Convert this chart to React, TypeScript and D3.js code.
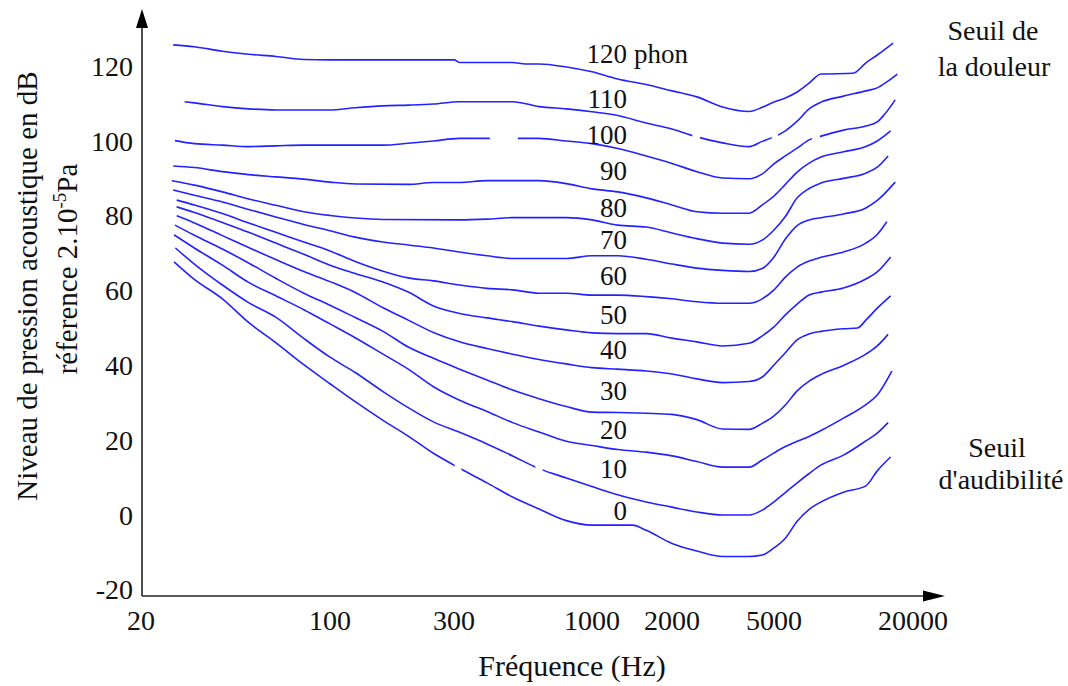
import React from "react";
import * as d3 from "d3";

// ---------- data ----------
const phonLevels = [0, 10, 20, 30, 40, 50, 60, 70, 80, 90, 100, 110, 120];

const phon0: [number, number][] = [[26.5,67.7],[31.5,63.0],[40,57.8],[50,51.5],[63,46.1],[80,40.2],[100,35.1],[125,30.3],[160,25.3],[200,21.1],[250,16.5],[315,12.5],[400,8.6],[500,4.8],[630,1.6],[800,-1.5],[1000,-2.7],[1420,-2.7],[1600,-4.1],[2000,-7.6],[2500,-9.6],[3150,-11.1],[4000,-11.1],[4500,-10.7],[5000,-8.8],[5600,-6.2],[6300,-1.7],[7100,1.5],[8000,3.5],[10000,6.1],[12500,7.8],[14000,11.8],[16000,15.5]];
const phon10: [number, number][] = [[26.8,71.4],[31.5,67.1],[40,61.5],[50,56.8],[63,52.9],[80,47.2],[100,42.2],[125,38.1],[160,33.0],[200,28.7],[250,24.9],[315,22.1],[400,19.0],[500,15.8],[630,12.4],[800,9.9],[1000,7.6],[1250,5.4],[1600,3.5],[2000,2.1],[2500,0.8],[3150,0],[4000,0],[4500,1.3],[5000,3.5],[5600,6.0],[6300,8.6],[7100,11.1],[8000,13.4],[10000,16.0],[12500,19.8],[14000,21.9],[15600,24.7]];
const phon20: [number, number][] = [[26.5,74.9],[31.5,71.4],[40,66.8],[50,62.2],[63,58.6],[80,54.9],[100,51.1],[125,47.4],[160,43.0],[200,39.0],[250,34.3],[315,30.7],[400,27.7],[500,24.7],[630,22.2],[800,19.7],[1000,18.6],[1250,17.5],[1600,16.8],[2000,15.8],[2500,14.3],[3150,12.8],[4000,12.8],[4500,14.7],[5000,16.6],[5600,18.3],[6300,19.7],[7100,21.0],[8000,22.6],[10000,25.9],[12500,29.5],[14000,32.1],[16200,38.5]];
const phon30: [number, number][] = [[26.7,77.5],[31.5,74.8],[40,71.1],[50,67.4],[63,63.3],[80,59.3],[100,56.1],[125,52.8],[160,49.1],[200,44.9],[250,41.9],[315,39.0],[400,36.1],[500,33.4],[630,31.1],[800,29.0],[1000,27.5],[1250,27.4],[1600,27.2],[2000,26.9],[2500,25.5],[3150,23.0],[4000,22.9],[4500,24.5],[5000,26.5],[5600,29.4],[6300,33.2],[7100,35.8],[8000,37.6],[10000,40.0],[12500,43.0],[14000,45.2],[15600,48.3]];
const phon40: [number, number][] = [[27.1,80.0],[31.5,78.1],[40,74.7],[50,71.5],[63,68.3],[80,65.1],[100,62.4],[125,59.5],[160,55.4],[200,52.1],[250,48.8],[315,46.3],[400,44.5],[500,43.0],[630,41.6],[800,40.4],[1000,39.4],[1250,39.0],[1600,38.5],[2000,37.7],[2500,36.4],[3150,35.4],[4000,35.7],[4500,36.9],[5000,40.1],[5600,43.4],[6300,46.8],[7100,48.4],[8000,49.1],[10000,49.8],[11500,50.0],[12500,52.1],[14000,55.3],[16000,58.6]];
const phon50: [number, number][] = [[27.1,82.4],[31.5,80.9],[40,78.2],[50,75.6],[63,72.7],[80,69.7],[100,66.8],[125,64.6],[160,62.3],[200,59.6],[250,55.9],[315,53.9],[400,52.7],[500,51.7],[630,50.5],[800,49.5],[1000,48.7],[1250,48.5],[1600,48.5],[2000,47.3],[2500,46.3],[3150,45.2],[4000,45.9],[4500,47.9],[5000,50.3],[5600,53.5],[6300,56.4],[7100,58.8],[8000,59.6],[10000,60.7],[12500,63.1],[14000,65.0],[16000,69.0]];
const phon60: [number, number][] = [[27.1,84.2],[31.5,82.9],[40,80.6],[50,78.1],[63,75.6],[80,73.0],[100,70.6],[125,67.8],[160,65.2],[200,63.4],[250,62.6],[315,61.5],[400,60.6],[500,60.2],[630,59.3],[800,59.3],[1000,58.8],[1250,58.8],[1600,58.4],[2000,57.8],[2500,57.0],[3150,56.6],[4000,56.6],[4500,57.8],[5000,60.2],[5600,63.6],[6300,66.3],[7100,67.9],[8000,68.9],[10000,70.3],[12500,72.7],[14000,75.0],[15400,78.4]];
const phon70: [number, number][] = [[26.3,86.9],[31.5,85.5],[40,83.7],[50,81.7],[63,79.7],[80,77.7],[100,76.0],[125,74.3],[160,73.0],[200,72.2],[250,71.4],[315,70.3],[400,69.3],[500,68.6],[800,68.6],[1000,69.3],[1250,69.3],[1600,68.4],[2000,67.1],[2500,66.0],[3150,65.4],[4000,65.1],[4500,65.9],[5000,69.0],[5600,73.8],[6300,77.4],[7100,78.9],[8000,79.5],[10000,80.5],[12500,82.1],[14000,84.1],[16750,89.0]];
const phon80: [number, number][] = [[26,89.4],[31.5,88.2],[40,86.4],[50,84.5],[63,82.8],[80,81.1],[100,80.1],[125,79.4],[160,79.0],[315,78.9],[400,79.1],[500,79.5],[800,79.5],[1000,78.9],[1250,77.5],[1600,77.0],[2000,75.4],[2500,73.9],[3150,72.7],[4000,72.4],[4500,73.5],[5000,76.2],[5600,79.8],[6300,84.8],[7100,87.3],[8000,88.8],[10000,90.0],[12500,91.4],[14000,93.0],[15600,96.0]];
const phon90: [number, number][] = [[26.3,93.3],[31.5,92.9],[40,91.8],[50,91.0],[63,90.4],[80,89.8],[100,89.0],[125,88.5],[200,88.4],[250,88.9],[315,88.9],[400,89.4],[630,89.4],[800,88.6],[1000,87.2],[1250,86.4],[1600,84.8],[2000,82.9],[2500,81.1],[3150,80.7],[4000,80.7],[4500,82.9],[5000,85.3],[5600,88.4],[6300,91.7],[7100,94.1],[8000,95.7],[10000,97.1],[12500,98.5],[14000,100.0],[16000,102.7]];
const phon100: [number, number][] = [[26.7,100.1],[31.5,99.3],[40,98.9],[50,98.5],[63,98.7],[80,98.9],[160,98.9],[200,99.4],[250,100.0],[315,100.7],[630,100.7],[800,100.0],[1000,99.3],[1250,98.0],[1600,96.0],[2000,94.0],[2500,91.8],[3150,90.1],[4000,89.9],[4500,91.2],[5000,93.9],[5600,96.0],[6300,98.1],[7100,100.3],[8000,101.3],[10000,102.9],[12500,104.0],[14000,105.1],[15000,107.0],[16750,111.0]];
const phon110: [number, number][] = [[29,110.5],[31.5,110.2],[40,109.2],[50,108.6],[63,108.3],[100,108.3],[125,108.9],[160,109.4],[200,109.6],[250,109.9],[315,110.5],[500,110.5],[630,109.2],[800,108.6],[1000,107.8],[1250,106.8],[1600,104.8],[2000,103.2],[2500,101.1],[3150,99.5],[4000,98.5],[4500,99.9],[5000,101.1],[5600,102.7],[6300,105.3],[7100,108.6],[8000,110.4],[10000,112.0],[12500,113.4],[14000,114.2],[15400,115.8],[17100,117.9]];
const phon120: [number, number][] = [[26.3,125.7],[31.5,125.2],[40,124.0],[50,123.2],[63,122.6],[80,121.8],[100,121.7],[250,121.7],[300,121.7],[315,121.0],[500,121.0],[560,120.6],[630,120.6],[800,119.8],[1000,118.5],[1250,116.6],[1600,115.1],[2000,113.4],[2500,111.8],[3150,109.1],[4000,107.9],[4500,109.0],[5000,110.4],[5600,111.5],[6300,113.1],[7100,115.5],[8000,117.9],[11000,118.1],[12500,120.9],[14000,123.0],[16400,126.2]];

const curves = [phon0, phon10, phon20, phon30, phon40, phon50, phon60, phon70, phon80, phon90, phon100, phon110, phon120];

// small breaks in the drawn lines (frequency intervals)
const curveGaps: [number, number][][] = [
  [[302, 320]], [[610, 650]], [], [], [], [], [], [], [], [],
  [[410, 524], [7300, 7900]], [[2400, 2570], [4900, 5200]], [],
];

// level (dB) of the baseline of each curve label
const labelLevels = [-1.3, 9.9, 20.3, 30.7, 41.7, 51.1, 61.5, 71.1, 79.7, 89.6, 99.2, 108.8, 120.9];

const xTicks = [20, 100, 300, 1000, 2000, 5000, 20000];
const yTicks = [-20, 0, 20, 40, 60, 80, 100, 120];

export default function App() {
  const W = 1068, H = 686;
  const x = d3.scaleLog().domain(xTicks).range([141, 330, 454, 592, 672, 774, 913]);
  const y = d3.scaleLinear().domain([-20, 120]).range([589.8, 66.2]);
  const line = d3
    .line<[number, number]>()
    .x((d) => x(d[0]))
    .y((d) => y(d[1]))
    .curve(d3.curveMonotoneX);

  const axisX0 = 142;
  const axisY0 = 596;
  const blue = "#2222ff";
  const font = "'Liberation Serif', 'Times New Roman', serif";

  return (
    <svg
      width={W}
      height={H}
      style={{ position: "absolute", left: 0, top: 0, background: "#fff" }}
      fontFamily={font}
    >
      <defs>
        {curves.map((c, i) => {
          const gaps = curveGaps[i];
          if (!gaps.length) return null;
          const rects: [number, number][] = [];
          let start = 0;
          gaps.forEach(([a, b]) => {
            rects.push([start, x(a)]);
            start = x(b);
          });
          rects.push([start, W]);
          return (
            <clipPath id={`gap-${i}`} key={i}>
              {rects.map(([a, b], j) => (
                <rect key={j} x={a} y={0} width={Math.max(0, b - a)} height={H} />
              ))}
            </clipPath>
          );
        })}
      </defs>

      {/* axes */}
      <line x1={axisX0} y1={axisY0} x2={axisX0} y2={24} stroke="#222" strokeWidth={1.6} />
      <polygon points={`${axisX0},9 ${axisX0 - 6},28 ${axisX0 + 6},28`} fill="#000" />
      <line x1={axisX0} y1={axisY0} x2={928} y2={axisY0} stroke="#222" strokeWidth={1.6} />
      <polygon points={`945,${axisY0} 923,${axisY0 - 5.5} 923,${axisY0 + 5.5}`} fill="#000" />

      {/* y tick labels */}
      {yTicks.map((t) => (
        <text key={t} x={133} y={y(t) + 9.5} textAnchor="end" fontSize={28} fill="#111">
          {t}
        </text>
      ))}
      {/* x tick labels */}
      {xTicks.map((t) => (
        <text key={t} x={x(t)} y={630} textAnchor="middle" fontSize={28} fill="#111">
          {t}
        </text>
      ))}

      {/* axis titles */}
      <text x={572} y={676} textAnchor="middle" fontSize={30} fill="#111">
        Fréquence (Hz)
      </text>
      <text transform="translate(37,286) rotate(-90)" textAnchor="middle" fontSize={29} fill="#111">
        Niveau de pression acoustique en dB
      </text>
      <text transform="translate(77,269) rotate(-90)" textAnchor="middle" fontSize={29} fill="#111">
        réference 2.10
        <tspan fontSize={19} dy={-11}>-5</tspan>
        <tspan dy={11}>Pa</tspan>
      </text>

      {/* curves */}
      {curves.map((c, i) => (
        <path
          key={i}
          d={line(c) || ""}
          fill="none"
          stroke={blue}
          strokeWidth={1.6}
          clipPath={curveGaps[i].length ? `url(#gap-${i})` : undefined}
        />
      ))}

      {/* curve labels */}
      {phonLevels.map((p, i) => (
        <text key={p} x={627} y={y(labelLevels[i])} textAnchor="end" fontSize={27} fill="#111">
          {p}
        </text>
      ))}
      <text x={634} y={y(labelLevels[12])} fontSize={27} fill="#111">
        phon
      </text>

      {/* annotations */}
      <text x={993} y={40} textAnchor="middle" fontSize={28} fill="#111">Seuil de</text>
      <text x={994} y={76} textAnchor="middle" fontSize={28} fill="#111">la douleur</text>
      <text x={997} y={457} textAnchor="middle" fontSize={28} fill="#111">Seuil</text>
      <text x={1001} y={489} textAnchor="middle" fontSize={28} fill="#111">d'audibilité</text>
    </svg>
  );
}
